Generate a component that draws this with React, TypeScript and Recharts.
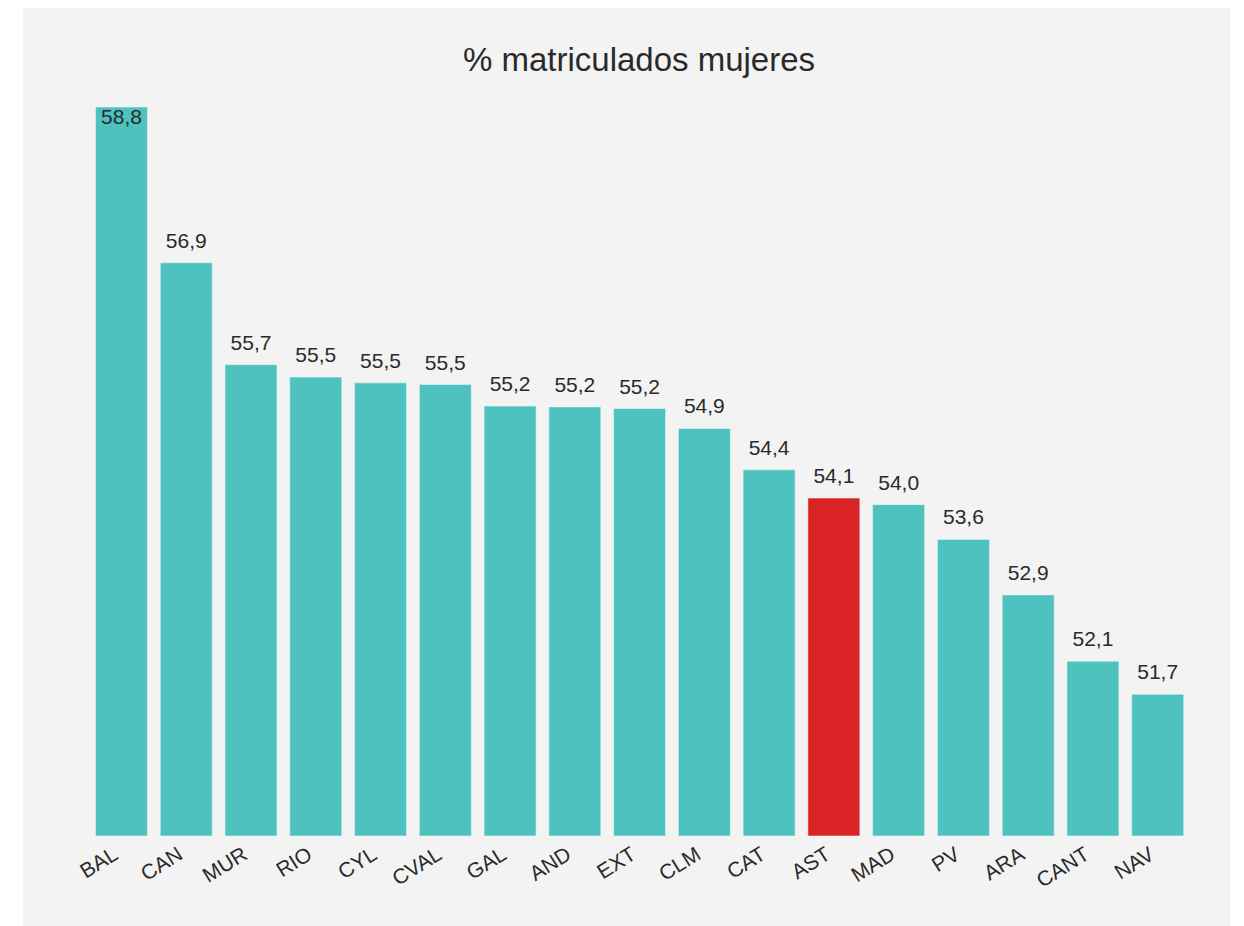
import { BarChart, Bar, XAxis, YAxis, Cell, LabelList } from 'recharts'

const regions = ['BAL', 'CAN', 'MUR', 'RIO', 'CYL', 'CVAL', 'GAL', 'AND', 'EXT', 'CLM', 'CAT', 'AST', 'MAD', 'PV', 'ARA', 'CANT', 'NAV']
const pctWomen = [58.8, 56.92, 55.69, 55.54, 55.47, 55.45, 55.19, 55.18, 55.16, 54.92, 54.42, 54.08, 54.0, 53.58, 52.91, 52.11, 51.71]
const highlight = 'AST'

const data = regions.map((name, i) => ({ name, value: pctWomen[i] }))

const FONT = '"Liberation Sans", Arial, sans-serif'
const TOP = 99

const fmt = (v: number) => v.toFixed(1).replace('.', ',')

function ValueLabel(props: any) {
  const { x, y, width, value } = props
  const inside = y - 24 < TOP
  return (
    <text
      x={x + width / 2}
      y={inside ? y + 17 : y - 15}
      textAnchor="middle"
      fontFamily={FONT}
      fontSize={21}
      fill="#2a2a2a"
    >
      {fmt(value)}
    </text>
  )
}

function RotTick(props: any) {
  const { x, y, payload } = props
  const ax = x - 2
  const ay = y + 22
  return (
    <text
      x={ax}
      y={ay}
      textAnchor="end"
      transform={`rotate(-32, ${ax}, ${ay})`}
      fontFamily={FONT}
      fontSize={21}
      fill="#2a2a2a"
    >
      {payload.value}
    </text>
  )
}

export default function App() {
  return (
    <div style={{ marginLeft: 15, position: 'relative', width: 1207, height: 918, background: '#f3f3f3' }}>
      <div
        style={{
          position: 'absolute',
          left: 0,
          top: 33,
          width: 1232,
          textAlign: 'center',
          fontFamily: FONT,
          fontSize: 33,
          lineHeight: '38px',
          color: '#2a2a2a',
        }}
      >
        % matriculados mujeres
      </div>
      <BarChart
        width={1207}
        height={918}
        data={data}
        margin={{ top: TOP, right: 40, bottom: 0, left: 66 }}
        barCategoryGap="10%"
      >
        <XAxis dataKey="name" axisLine={false} tickLine={false} tickSize={0} tickMargin={0} height={90} interval={0} tick={<RotTick />} />
        <YAxis hide domain={[50, 58.8]} allowDataOverflow />
        <Bar dataKey="value" isAnimationActive={false} stroke="#e6f3f2" strokeWidth={0.6}>
          {data.map((d) => (
            <Cell key={d.name} fill={d.name === highlight ? '#da2325' : '#4ec2be'} />
          ))}
          <LabelList dataKey="value" content={<ValueLabel />} />
        </Bar>
      </BarChart>
    </div>
  )
}
